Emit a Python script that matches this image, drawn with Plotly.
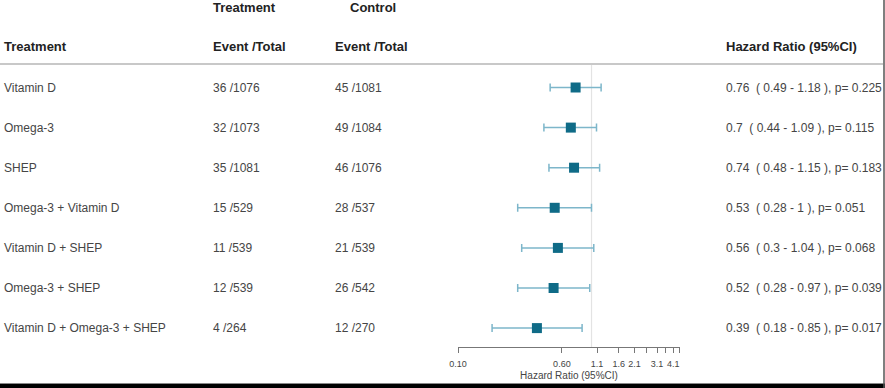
import plotly.graph_objects as go

# ---- data ----
treatments = ["Vitamin D", "Omega-3", "SHEP", "Omega-3 + Vitamin D",
              "Vitamin D + SHEP", "Omega-3 + SHEP", "Vitamin D + Omega-3 + SHEP"]
trt_events = [36, 32, 35, 15, 11, 12, 4]
trt_totals = [1076, 1073, 1081, 529, 539, 539, 264]
ctl_events = [45, 49, 46, 28, 21, 26, 12]
ctl_totals = [1081, 1084, 1076, 537, 539, 542, 270]
hr = [0.76, 0.7, 0.74, 0.53, 0.56, 0.52, 0.39]
ci_lo = [0.49, 0.44, 0.48, 0.28, 0.3, 0.28, 0.18]
ci_hi = [1.18, 1.09, 1.15, 1, 1.04, 0.97, 0.85]
p_vals = ["0.225", "0.115", "0.183", "0.051", "0.068", "0.039", "0.017"]
tick_vals = [0.1, 0.6, 1.1, 1.6, 2.1, 2.6, 3.1, 3.6, 4.1, 4.6]
tick_text = ["0.10", "0.60", "1.1", "1.6", "2.1", "", "3.1", "", "4.1", ""]

W, H = 885, 388
ROW0, STEP = 87.5, 40.1     # pixel of first row, row spacing
AXIS_PX = 347               # pixel of x axis line

def py(p):
    return (p - ROW0) / STEP

rows = list(range(len(treatments)))

fig = go.Figure()

# reference line at HR = 1
fig.add_trace(go.Scatter(x=[1, 1], y=[py(65), py(AXIS_PX)], mode="lines",
                         line=dict(color="#e3e3e3", width=1.2),
                         hoverinfo="skip", showlegend=False))

fig.add_trace(go.Scatter(
    x=hr, y=rows, mode="markers",
    marker=dict(symbol="square", size=10, color="#0f6b87", line=dict(width=0)),
    error_x=dict(type="data", symmetric=False,
                 array=[h - m for h, m in zip(ci_hi, hr)],
                 arrayminus=[m - l for m, l in zip(hr, ci_lo)],
                 color="#7db6ca", thickness=1.5, width=4),
    showlegend=False))

text_col = "#454545"
head_col = "#222222"
ann = []
def add(x, yv, s, bold=False, size=12, color=text_col, yanchor="middle"):
    ann.append(dict(x=x / W, y=yv, xref="paper", yref="y", text=(f"<b>{s}</b>" if bold else s),
                    showarrow=False, xanchor="left", yanchor=yanchor, borderpad=0, borderwidth=0,
                    font=dict(size=size, color=color, family="Liberation Sans, Arial")))

# headers
add(213, py(0), "Treatment", bold=True, size=13, color=head_col, yanchor="top")
add(350, py(0), "Control", bold=True, size=13, color=head_col, yanchor="top")
add(4, py(46), "Treatment", bold=True, size=13, color=head_col)
add(213, py(46), "Event /Total", bold=True, size=13, color=head_col)
add(335, py(46), "Event /Total", bold=True, size=13, color=head_col)
add(726, py(46), "Hazard Ratio (95%CI)", bold=True, size=13, color=head_col)

for i in rows:
    add(4, i, treatments[i])
    add(213, i, f"{trt_events[i]} /{trt_totals[i]}")
    add(335, i, f"{ctl_events[i]} /{ctl_totals[i]}")
    add(726, i, f"{hr[i]:g}  ( {ci_lo[i]:g} - {ci_hi[i]:g} ), p= {p_vals[i]}")

fig.update_layout(
    width=W, height=H, margin=dict(l=0, r=0, t=0, b=0, pad=0), autosize=False,
    paper_bgcolor="white", plot_bgcolor="white",
    annotations=ann,
    font=dict(family="Liberation Sans, Arial"),
    xaxis=dict(type="log", range=[-1, 0.6628], domain=[458 / W, 680 / W], automargin=False,
               showline=True, linecolor="#777", linewidth=1, showgrid=False, zeroline=False,
               ticks="outside", ticklen=5, tickcolor="#777", tickwidth=1,
               tickvals=tick_vals, ticktext=tick_text, ticklabelstandoff=3,
               tickfont=dict(size=9, color="#444"),
               title=dict(text="Hazard Ratio (95%CI)", font=dict(size=10, color="#444"), standoff=4)),
    yaxis=dict(range=[py(AXIS_PX), py(0)], domain=[1 - AXIS_PX / H, 1], automargin=False,
               visible=False, showgrid=False, zeroline=False),
    shapes=[
        dict(type="line", xref="paper", yref="paper", x0=0, x1=883 / W,
             y0=1 - 64 / H, y1=1 - 64 / H, line=dict(color="#c8c8c8", width=2)),
        dict(type="rect", xref="paper", yref="paper", x0=0, x1=1,
             y0=0, y1=4 / H, fillcolor="black", line=dict(width=0)),
        dict(type="line", xref="paper", yref="paper", x0=0, x1=1,
             y0=4.5 / H, y1=4.5 / H, line=dict(color="#888", width=1)),
        dict(type="line", xref="paper", yref="paper", x0=884 / W, x1=884 / W,
             y0=0, y1=1, line=dict(color="#555", width=1.5)),
    ],
)

fig.write_html("out.html", config={"responsive": False, "displayModeBar": False},
               post_script="document.body.style.margin='0';document.body.style.padding='0';")
